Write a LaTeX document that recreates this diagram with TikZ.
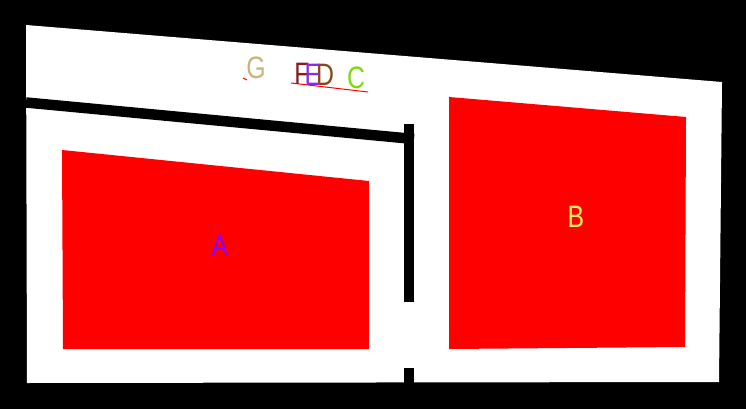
\documentclass[tikz,border=0pt]{standalone}
\usepackage{fontspec}
\newfontfamily\lblfont[FakeStretch=0.8]{Liberation Sans}
\usetikzlibrary{positioning}
\definecolor{lblpurple}{HTML}{8A00FF}
\definecolor{lblyellow}{HTML}{F0F060}
\definecolor{lbltan}{HTML}{C8B478}
\definecolor{lbldarkred}{HTML}{8B1A1A}
\definecolor{lblviolet}{HTML}{8A2BE2}
\definecolor{lblbrown}{HTML}{8B4513}
\definecolor{lblgreen}{HTML}{80D810}
\tikzset{
    wall/.style={fill=white}, % white frame
    panel/.style={fill=red}, % red windows
    bar/.style={fill=black},
    beam/.style={draw=black, line width=10.5pt},
    lbl/.style={font=\lblfont\fontsize{31}{31}\selectfont, inner sep=0pt}
}

\begin{document}
\begin{tikzpicture}[x=1pt,y=-1pt]
        \fill[black] (0,0) rectangle (746,409);
        \useasboundingbox (0,0) rectangle (746,409);

        \fill[wall] (26,25) -- (722,82) -- (719,382) -- (27,383) -- cycle;
        \draw[beam] (26,102.5) -- (414,139);
        \fill[bar] (404,124) rectangle (414,302);
        \fill[bar] (404,368) rectangle (414,383);

        \fill[panel] (62,150) -- (369,181) -- (369,349) -- (63,349) -- cycle;
        \fill[panel] (449,97) -- (686,117) -- (685,347) -- (449,349) -- cycle;

        \node[lbl, text=lblpurple] (lblA) at (220,245.5) {A};
        \node[lbl, text=lblyellow] (lblB) at (576,216.5) {B};

        \draw[red, line width=1pt] (243,78) -- (247,80);
        \draw[red, line width=1pt] (291,83) -- (368,92);

        \node[lbl, text=lbltan] (lblG) at (256,68) {G};
        \node[lbl, text=lbldarkred] (lblF) at (302,74) {F};
        \node[lbl, text=lblbrown] (lblD) at (325,75) {D};
        \node[lbl, text=lblviolet] (lblE) at (313,75) {E};
        \node[lbl, text=lblgreen] (lblC) at (356,78) {C};
    \end{tikzpicture}
\end{document}
